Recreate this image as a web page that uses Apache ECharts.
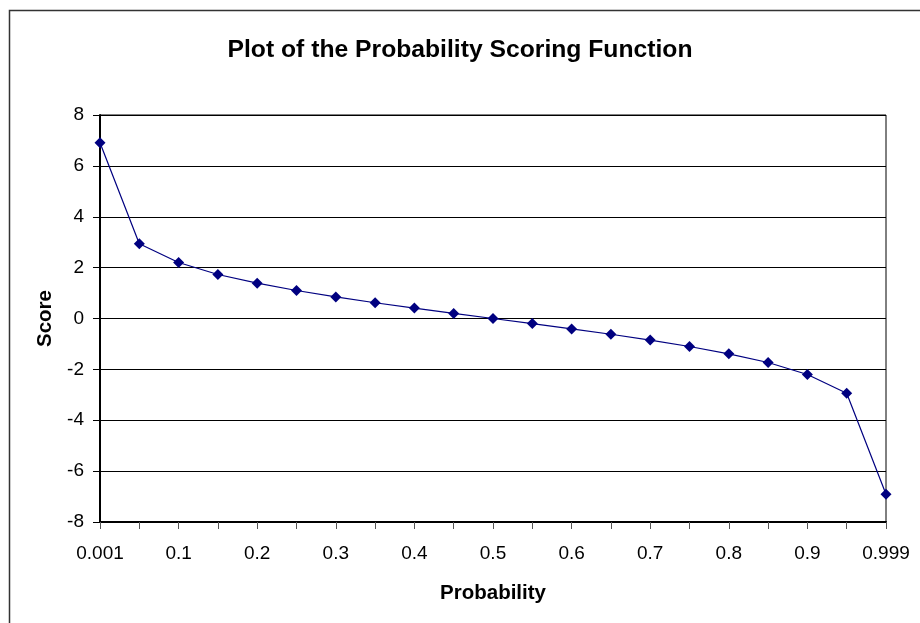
<!DOCTYPE html>
<html>
<head>
<meta charset="utf-8">
<script src="https://cdn.jsdelivr.net/npm/echarts@6/dist/echarts.min.js"></script>
<style>html,body{margin:0;padding:0;background:#fff;}#c{width:920px;height:623px;}</style>
</head>
<body>
<div id="c"></div>
<script>
const probabilities = ['0.001','0.05','0.1','0.15','0.2','0.25','0.3','0.35','0.4','0.45','0.5','0.55','0.6','0.65','0.7','0.75','0.8','0.85','0.9','0.95','0.999'];
const scores = [6.91, 2.94, 2.2, 1.73, 1.39, 1.1, 0.85, 0.62, 0.41, 0.2, 0, -0.2, -0.41, -0.62, -0.85, -1.1, -1.39, -1.73, -2.2, -2.94, -6.91];
const yTicks = [-8, -6, -4, -2, 0, 2, 4, 6, 8];

const chart = echarts.init(document.getElementById('c'), null, {renderer: 'canvas'});
const font = 'Liberation Sans, Arial, sans-serif';
chart.setOption({
  animation: false,
  backgroundColor: '#fff',
  textStyle: {fontFamily: font},
  title: {
    text: 'Plot of the Probability Scoring Function',
    left: 'center',
    top: 33,
    textStyle: {fontFamily: font, fontSize: 24.7, fontWeight: 'bold', color: '#000'}
  },
  graphic: [{
    type: 'rect',
    shape: {x: 9.5, y: 10.5, width: 1000, height: 1000},
    style: {fill: 'none', stroke: '#333', lineWidth: 1.5},
    silent: true
  }],
  grid: {
    left: 100, right: 34, top: 115, bottom: 101,
    show: true, borderColor: '#000', borderWidth: 1, backgroundColor: 'transparent'
  },
  xAxis: {
    type: 'category',
    data: probabilities,
    boundaryGap: false,
    name: 'Probability',
    nameLocation: 'middle',
    nameGap: 61,
    nameTextStyle: {fontFamily: font, fontSize: 20.5, fontWeight: 'bold', color: '#000'},
    axisLine: {onZero: false, lineStyle: {color: '#000', width: 2}},
    axisTick: {show: true, interval: 0, length: 7, lineStyle: {color: '#555'}},
    axisLabel: {interval: 1, margin: 22, fontFamily: font, fontSize: 19, color: '#000'},
    splitLine: {show: false}
  },
  yAxis: {
    type: 'value',
    min: -8, max: 8, interval: 2,
    name: 'Score',
    nameLocation: 'middle',
    nameGap: 43,
    nameRotate: 90,
    nameTextStyle: {fontFamily: font, fontSize: 20.5, fontWeight: 'bold', color: '#000'},
    axisLine: {show: true, onZero: false, lineStyle: {color: '#000', width: 2}},
    axisTick: {show: true, length: 7, lineStyle: {color: '#000'}},
    axisLabel: {margin: 16, fontFamily: font, fontSize: 19, color: '#000',
      formatter: v => yTicks.includes(v) ? String(v) : ''},
    splitLine: {show: true, lineStyle: {color: '#000', width: 1}}
  },
  series: [{
    type: 'line',
    data: scores,
    symbol: 'diamond',
    symbolSize: 11,
    itemStyle: {color: '#000080'},
    lineStyle: {color: '#000080', width: 1.2},
    clip: false
  }]
});
</script>
</body>
</html>
